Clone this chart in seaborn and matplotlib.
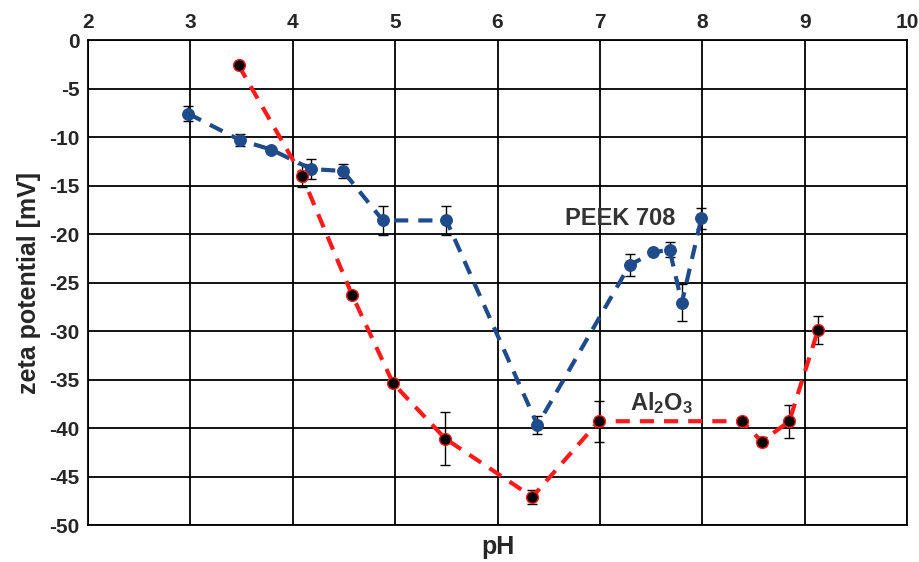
import numpy as np
import pandas as pd
import matplotlib
matplotlib.use("Agg")
import matplotlib.pyplot as plt
import seaborn as sns

# PEEK 708 (blue)
peek_ph = [2.98, 3.48, 3.79, 4.18, 4.49, 4.88, 5.50, 6.39, 7.29, 7.52, 7.68, 7.80, 7.99]
peek_zeta = [-7.6, -10.3, -11.3, -13.3, -13.5, -18.6, -18.6, -39.7, -23.2, -21.9, -21.6, -27.1, -18.4]
peek_err = [0.75, 0.6, 0.0, 1.0, 0.7, 1.5, 1.5, 0.95, 1.1, 0.0, 0.8, 1.9, 1.1]

# Al2O3 (red)
al_ph = [3.47, 4.09, 4.58, 4.98, 5.49, 6.34, 6.99, 8.39, 8.58, 8.85, 9.13]
al_zeta = [-2.6, -14.0, -26.3, -35.4, -41.1, -47.1, -39.3, -39.3, -41.4, -39.3, -29.9]
al_err = [0.0, 1.2, 0.0, 0.0, 2.7, 0.75, 2.1, 0.0, 0.5, 1.7, 1.4]

xticks = [2, 3, 4, 5, 6, 7, 8, 9, 10]
yticks = [0, -5, -10, -15, -20, -25, -30, -35, -40, -45, -50]

peek = pd.DataFrame({"pH": peek_ph, "zeta": peek_zeta, "err": peek_err})
al = pd.DataFrame({"pH": al_ph, "zeta": al_zeta, "err": al_err})

sns.set_style("white")
plt.rcParams["font.family"] = ["Liberation Sans", "DejaVu Sans"]
plt.rcParams["axes.unicode_minus"] = False
plt.rcParams["mathtext.fontset"] = "custom"
plt.rcParams["mathtext.rm"] = "Liberation Sans"
plt.rcParams["mathtext.bf"] = "Liberation Sans:bold"

fig = plt.figure(figsize=(9.19, 5.62), dpi=100)
ax = fig.add_axes([0.0958, 0.0658, 0.8912, 0.863])

blue = "#1f4b8a"
red = "#ff1a1a"

ax.errorbar(peek["pH"], peek["zeta"], yerr=peek["err"], fmt="none",
            ecolor="black", elinewidth=1.0, capsize=3.5, capthick=1.0, zorder=4)
ax.errorbar(al["pH"], al["zeta"], yerr=al["err"], fmt="none",
            ecolor="black", elinewidth=1.0, capsize=3.5, capthick=1.0, zorder=4)

sns.lineplot(data=peek, x="pH", y="zeta", ax=ax, color=blue, lw=3,
             linestyle=(0, (3.4, 2.4)), marker="o", markersize=8.5,
             markerfacecolor=blue, markeredgecolor=blue, zorder=5)
sns.lineplot(data=al, x="pH", y="zeta", ax=ax, color=red, lw=3,
             linestyle=(0, (3.4, 2.4)), marker="o", markersize=8.5,
             markerfacecolor="black", markeredgecolor=red, markeredgewidth=1,
             zorder=5)

ax.text(7.2, -18.4, "PEEK 708", fontsize=17, fontweight="bold", color="#333333",
        ha="center", va="center", zorder=6)
ax.text(7.6, -37.4, r"$\mathbf{Al_2O_3}$", fontsize=17,
        color="#333333", ha="center", va="center", zorder=6)

ax.set_xlim(2, 10)
ax.set_ylim(-50, 0)
ax.set_xticks(xticks)
ax.set_yticks(yticks)
ax.xaxis.tick_top()
ax.xaxis.set_label_position("bottom")
ax.tick_params(length=0, labelsize=15, pad=6)
for lab in ax.get_xticklabels() + ax.get_yticklabels():
    lab.set_fontweight("bold")
ax.grid(True, color="black", lw=1.3)
for s in ax.spines.values():
    s.set_color("black")
    s.set_linewidth(1.3)

ax.set_xlabel("pH", fontsize=18, fontweight="bold", labelpad=7)
ax.set_ylabel("zeta potential [mV]", fontsize=18, fontweight="bold", labelpad=6)

fig.savefig("out.png", dpi=100)
